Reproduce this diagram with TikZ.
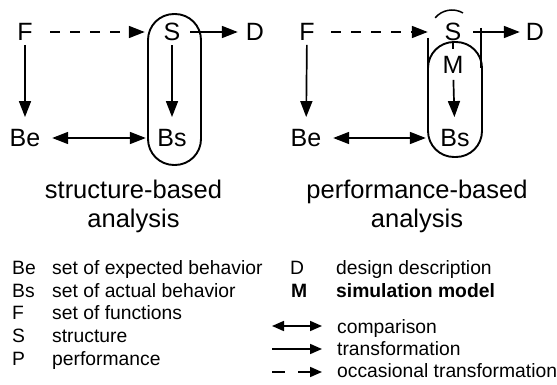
\documentclass[tikz,border=0pt]{standalone}
\usepackage{fontspec}
\setmainfont{Liberation Sans}
\usetikzlibrary{arrows.meta}
\begin{document}
\begin{tikzpicture}[x=1pt,y=-1pt,
  lbl/.style={inner sep=0pt, font=\fontsize{25}{29}\selectfont},
  sub/.style={inner sep=0pt, anchor=base, font=\fontsize{25.5}{29}\selectfont},
  leg/.style={inner sep=0pt, anchor=base west, font=\fontsize{19.3}{23}\selectfont},
  conn/.style={line width=1.7pt, -{Triangle[length=16pt,width=12pt]}},
  cmp/.style={line width=1.7pt, {Triangle[length=16pt,width=12pt]}-{Triangle[length=16pt,width=12pt]}},
  occ/.style={conn, dash pattern=on 10pt off 10pt},
  lconn/.style={line width=1.7pt, -{Triangle[length=12pt,width=10pt]}},
  lcmp/.style={line width=1.7pt, {Triangle[length=12pt,width=10pt]}-{Triangle[length=12pt,width=10pt]}},
  locc/.style={lconn, dash pattern=on 13pt off 13pt},
  bag/.style={draw, line width=1.9pt, rounded corners=26pt, inner sep=0pt},
  deco/.style={line width=1.5pt},
]
\fill[white] (0,0) rectangle (557,385);
\useasboundingbox (0,0) rectangle (557,385);

% ---------- left: structure-based analysis ----------
\node[bag, minimum width=53pt, minimum height=151pt] (box1) at (174.5,89.5) {};
\node[lbl] (F1) at (25,32) {F};
\node[lbl] (S1) at (172,32) {S};
\node[lbl] (D1) at (255,32) {D};
\node[lbl] (Be1) at (25,138) {Be};
\node[lbl] (Bs1) at (172,138) {Bs};

\draw[occ, shorten <=17.4pt, shorten >=18.7pt] (F1) -- (S1);
\draw[conn, shorten <=9.7pt, shorten >=8pt] (S1) -- (D1);
\draw[conn, shorten <=4pt, shorten >=12pt] (F1) -- (Be1);
\draw[conn, shorten <=4pt, shorten >=12pt] (S1) -- (Bs1);
\draw[cmp, shorten <=11.7pt, shorten >=11.4pt] (Be1) -- (Bs1);

\node[sub] (t1a) at (133.5,198) {structure-based};
\node[sub] (t1b) at (133.5,227) {analysis};

% ---------- right: performance-based analysis ----------
\node[bag, minimum width=54pt, minimum height=115pt] (box2) at (455,99.5) {};
\node[lbl] (F2) at (307,32) {F};
\node[lbl] (S2) at (453,32) {S};
\node[lbl] (D2) at (535,32) {D};
\node[lbl] (M2) at (453,65) {M};
\node[lbl] (Be2) at (306,138) {Be};
\node[lbl] (Bs2) at (455,138) {Bs};

\draw[deco] (428,38) -- (428,68);
\draw[deco] (481,28) -- (481,68);
\draw[deco] (452,32) ++(-140:22) arc[start angle=-140, end angle=-60, radius=22];
\draw[deco] (453,43) -- (453,49);

\draw[occ, shorten <=16.4pt, shorten >=16.7pt] (F2) -- (S2);
\draw[conn, shorten <=11.7pt, shorten >=6pt] (S2) -- (D2);
\draw[conn, shorten <=4pt, shorten >=12pt] (F2) -- (Be2);
\draw[conn, shorten <=6pt, shorten >=12pt] (M2) -- (Bs2);
\draw[cmp, shorten <=11.7pt, shorten >=14.4pt] (Be2) -- (Bs2);

\node[sub] (t2a) at (417,198) {performance-based};
\node[sub] (t2b) at (417,227) {analysis};

% ---------- legend ----------
\node[leg] (kBe) at (12,274) {Be};
\node[leg] (lBe) at (52,274) {set of expected behavior};
\node[leg] (kBs) at (12,297) {Bs};
\node[leg] (lBs) at (52,297) {set of actual behavior};
\node[leg] (kF) at (12,319.5) {F};
\node[leg] (lF) at (52,319.5) {set of functions};
\node[leg] (kS) at (12,342) {S};
\node[leg] (lS) at (52,342) {structure};
\node[leg] (kP) at (12,365) {P};
\node[leg] (lP) at (52,365) {performance};

\node[leg] (kD) at (290,274) {D};
\node[leg] (lD) at (336,274) {design description};
\node[leg] (kM) at (291,297) {\bfseries M};
\node[leg] (lM) at (336,297) {\bfseries simulation model};

\coordinate (ca) at (272,326);
\coordinate (cb) at (322,326);
\coordinate (ta) at (272,349);
\coordinate (tb) at (322,349);
\coordinate (oa) at (272,372);
\coordinate (ob) at (322,372);
\draw[lcmp] (ca) -- (cb);
\draw[lconn] (ta) -- (tb);
\draw[locc] (oa) -- (ob);
\node[leg] (lcmp) at (337,333) {comparison};
\node[leg] (ltr) at (337,355) {transformation};
\node[leg] (locc) at (337,377) {occasional transformation};
\end{tikzpicture}
\end{document}
